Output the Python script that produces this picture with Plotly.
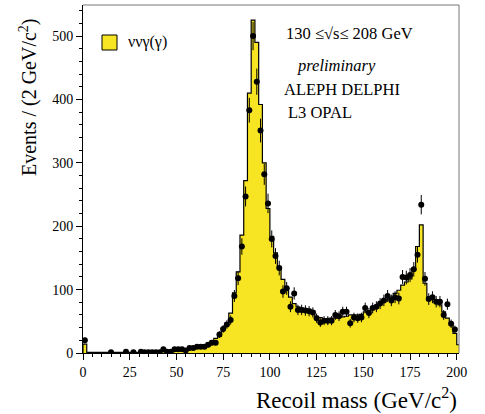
import numpy as np
import plotly.graph_objects as go

# ---- data ----
bin_edges = list(range(0, 204, 2))  # 0..202
mc_counts = [14] + [1]*19 + [2, 2, 2, 3, 3, 4, 5, 6, 7, 9, 10, 11, 13, 16, 19, 23, 26, 39, 47, 63,
             95, 128, 186, 272, 410, 525, 490, 392, 300, 228,
             184, 158, 136, 116, 102, 88, 78, 73, 71, 70,
             69, 67, 58, 56, 54, 54, 55, 55, 57, 57,
             58, 60, 60, 60, 61, 65, 67, 71, 74, 78,
             81, 84, 88, 94, 99, 107, 112, 117, 131, 168,
             202, 110, 89, 85, 81, 76, 65, 55, 47, 31,
             13]
data_x = list(range(1, 201, 2))
data_y = [20, 0, 0, 0, 0, 0, 0, 1, 0, 0,
          0, 2, 0, 1, 0, 2, 1, 1, 1, 1,
          1, 6, 2, 2, 6, 6, 6, 4, 8, 8,
          10, 10, 10, 13, 16, 16, 29, 38, 45, 52,
          90, 118, 168, 247, 383, 500, 428, 351, 282, 236,
          180, 153, 134, 97, 102, 73, 94, 68, 68, 67,
          66, 64, 55, 48, 51, 51, 51, 60, 58, 65,
          65, 47, 56, 55, 56, 71, 63, 71, 73, 78,
          83, 90, 83, 88, 86, 120, 119, 123, 132, 155,
          234, 117, 85, 88, 81, 81, 60, 77, 46, 37]
legend_label = "ννγ(γ)"

# ---- figure ----
xs = [bin_edges[0]] + bin_edges[:-1] + [bin_edges[-1], bin_edges[-1]]
ys = [0] + mc_counts + [mc_counts[-1], 0]

fig = go.Figure()
fig.add_trace(go.Scatter(x=xs, y=ys, mode="lines", line_shape="hv",
                         line=dict(color="black", width=1.2),
                         fill="tozeroy", fillcolor="#f7e423",
                         showlegend=False, hoverinfo="skip"))
nz = [(x, y) for x, y in zip(data_x, data_y) if y > 0]
fig.add_trace(go.Scatter(x=[p[0] for p in nz], y=[p[1] for p in nz], mode="markers",
                         marker=dict(color="black", size=6),
                         error_y=dict(type="data", array=[np.sqrt(p[1]) for p in nz],
                                      color="black", thickness=1, width=0),
                         showlegend=False))

serif = "Liberation Serif, Times New Roman, serif"
fig.update_layout(
    width=485, height=414,
    margin=dict(l=83, r=26, t=5, b=61),
    paper_bgcolor="white", plot_bgcolor="white",
    font=dict(family=serif, color="black", size=13),
    xaxis=dict(range=[0, 201.2], tickmode="array", tickvals=list(range(0, 201, 25)),
               ticks="outside", ticklen=6, tickcolor="black", showgrid=False,
               showline=True, linecolor="black", linewidth=1, zeroline=False,
               minor=dict(dtick=5, ticks="outside", ticklen=3, tickcolor="black"),
               tickfont=dict(size=14, family=serif)),
    yaxis=dict(range=[0, 549], tickmode="array", tickvals=list(range(0, 501, 100)),
               ticks="outside", ticklen=6, tickcolor="black", showgrid=False,
               showline=True, linecolor="black", linewidth=1, zeroline=False,
               minor=dict(dtick=20, ticks="outside", ticklen=3, tickcolor="black"),
               tickfont=dict(size=14, family=serif)),
)
# top/right frame
fig.add_shape(type="line", xref="paper", yref="paper", x0=0, x1=1, y0=1, y1=1,
              line=dict(color="#777", width=1))
fig.add_shape(type="line", xref="paper", yref="paper", x0=1, x1=1, y0=0, y1=1,
              line=dict(color="#777", width=1))
# legend box
fig.add_shape(type="rect", xref="paper", yref="paper",
              x0=(102-83)/376, x1=(117-83)/376, y0=(353-50)/348, y1=(353-35)/348,
              fillcolor="#f7e423", line=dict(color="black", width=1))
fig.add_annotation(xref="paper", yref="paper", x=(126-83)/376, y=(353-42)/348,
                   text=legend_label, showarrow=False, xanchor="left", yanchor="middle",
                   font=dict(size=16, family=serif))
notes = [("130 ≤√s≤ 208 GeV", 284, 33),
         ("<i>preliminary</i>", 295, 65),
         ("ALEPH DELPHI", 282, 89),
         ("L3 OPAL", 286, 113)]
for txt, px, py in notes:
    fig.add_annotation(xref="paper", yref="paper", x=(px-83)/376, y=(353-py)/348,
                       text=txt, showarrow=False, xanchor="left", yanchor="middle",
                       font=dict(size=16.5, family=serif))
fig.add_annotation(xref="paper", yref="paper", x=1, y=(353-398)/348,
                   text="Recoil mass (GeV/c<sup>2</sup>)", showarrow=False,
                   xanchor="right", yanchor="middle", font=dict(size=23, family=serif))
fig.add_annotation(xref="paper", yref="paper", x=(28-83)/376, y=(353-97)/348,
                   text="Events / (2 GeV/c<sup>2</sup>)", showarrow=False, textangle=-90,
                   xanchor="center", yanchor="middle", font=dict(size=20, family=serif))
fig.write_html("out.html")
